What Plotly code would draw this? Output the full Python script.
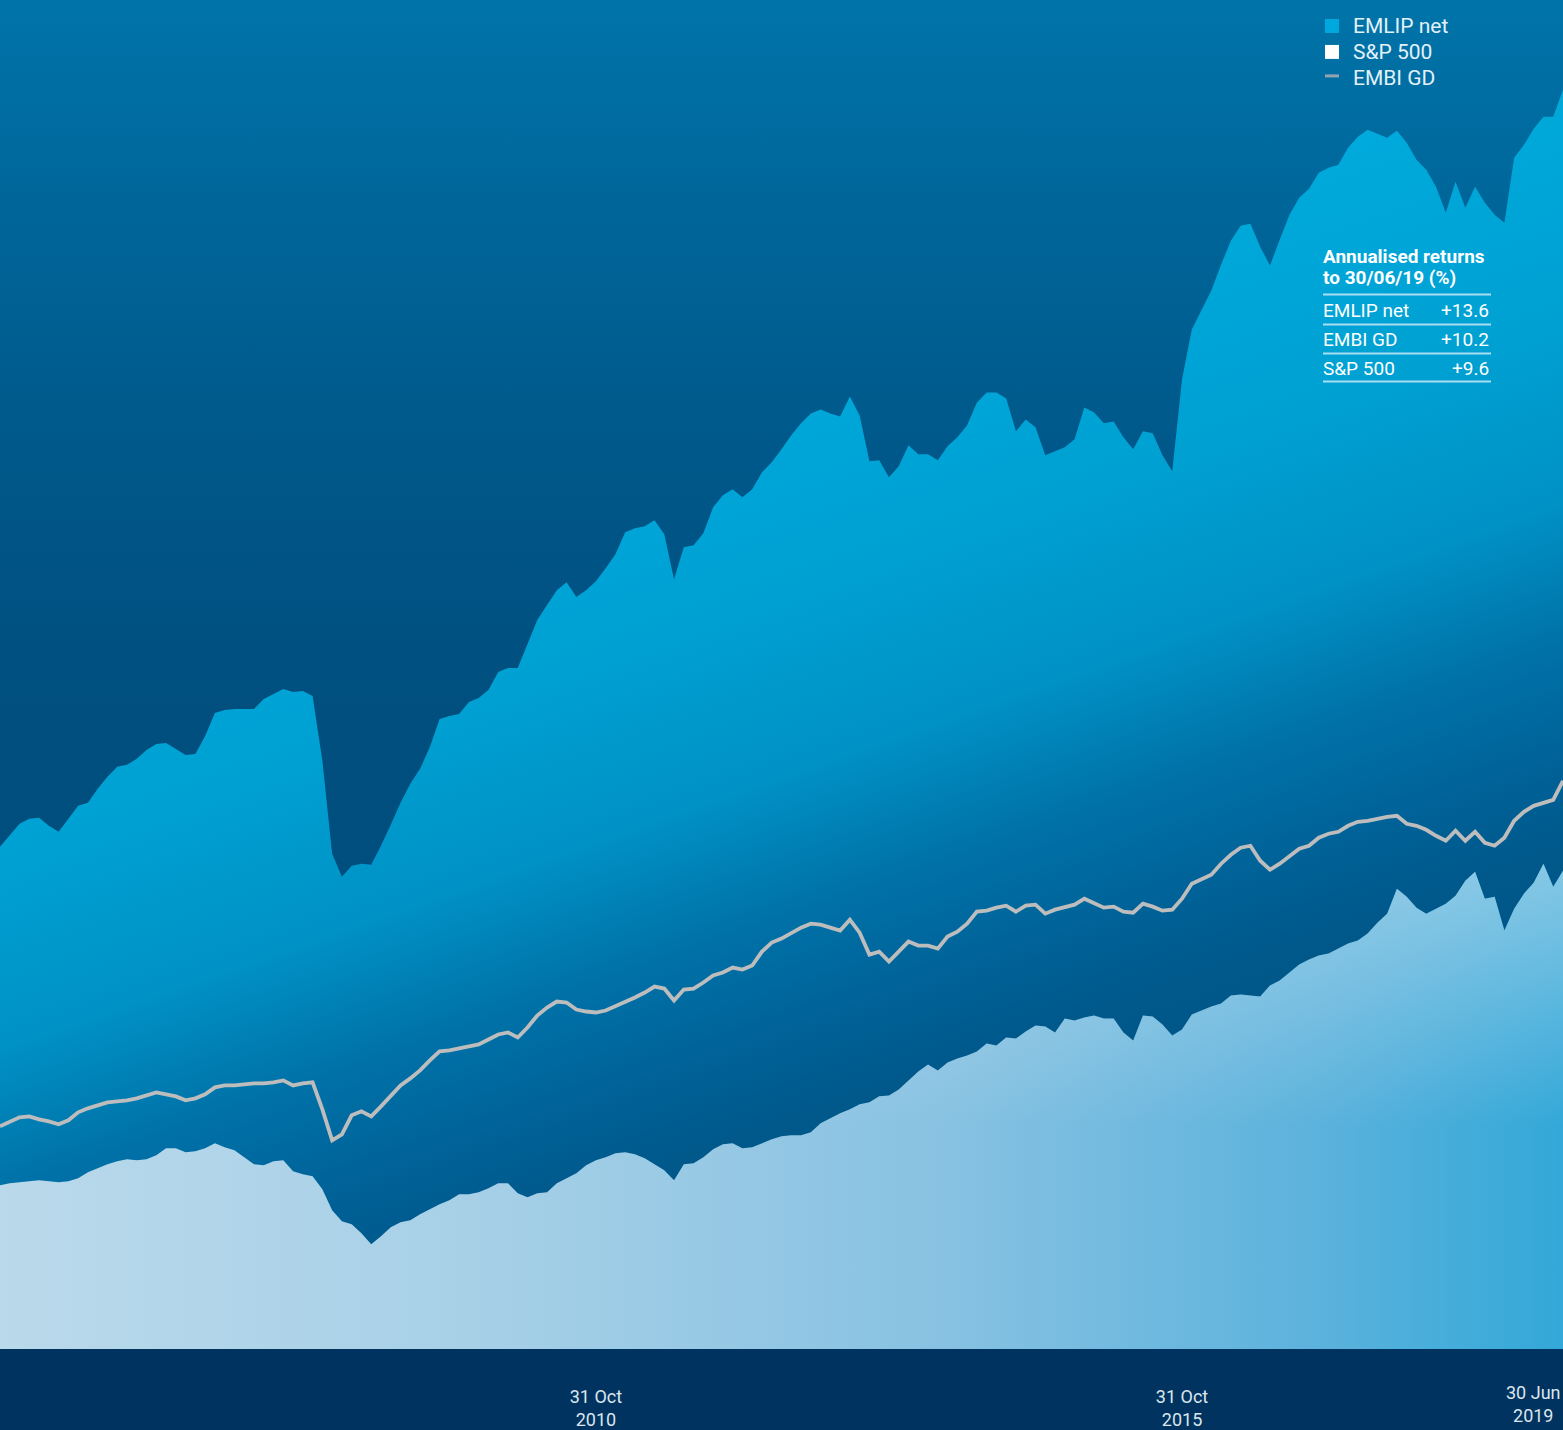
import base64
import plotly.graph_objects as go

# ---------------------------------------------------------------------------
# Data: month-end index levels (months since inception)
# ---------------------------------------------------------------------------
months = list(range(161))

emlip_net = [
    100.6, 103.0, 105.2, 106.2, 106.4, 104.8, 103.6, 106.2, 108.8, 109.4,
    112.2, 114.6, 116.6, 117.0, 118.2, 120.0, 121.2, 121.4, 120.2, 119.0,
    119.2, 122.8, 127.4, 128.0, 128.2, 128.2, 128.2, 130.2, 131.2, 132.2,
    131.6, 131.8, 130.8, 117.8, 99.2, 94.6, 96.8, 97.2, 97.0, 100.8,
    105.0, 109.4, 113.2, 116.2, 120.6, 126.2, 126.8, 127.2, 129.6, 130.4,
    132.0, 135.6, 136.4, 136.4, 141.2, 146.0, 149.0, 152.0, 153.6, 150.6,
    152.0, 153.8, 156.4, 159.2, 163.6, 164.4, 164.8, 166.0, 163.2, 154.2,
    160.6, 161.0, 163.4, 168.6, 171.0, 172.2, 170.6, 172.2, 175.6, 177.6,
    180.2, 183.0, 185.4, 187.4, 188.2, 187.4, 186.8, 190.8, 187.0, 177.8,
    178.0, 174.6, 176.8, 181.0, 179.2, 179.2, 178.0, 180.8, 182.6, 185.0,
    189.6, 191.6, 191.6, 190.4, 183.8, 186.2, 184.6, 179.0, 179.8, 180.6,
    182.2, 188.6, 187.6, 185.4, 185.8, 182.6, 180.2, 183.8, 183.4, 179.0,
    175.8, 194.2, 204.2, 208.0, 212.0, 217.2, 222.0, 225.0, 225.4, 220.8,
    217.0, 222.2, 227.2, 230.6, 232.4, 235.6, 236.6, 237.2, 240.6, 242.8,
    244.2, 243.4, 242.6, 244.0, 241.6, 238.2, 236.2, 232.8, 227.6, 233.8,
    228.6, 232.8, 229.6, 227.2, 225.6, 238.6, 241.2, 244.4, 246.8, 246.8,
    252.2,
]

embi_gd = [
    44.6, 45.6, 46.4, 46.6, 46.0, 45.6, 45.0, 45.8, 47.4, 48.2,
    48.8, 49.4, 49.6, 49.8, 50.2, 50.8, 51.4, 51.0, 50.6, 49.8,
    50.2, 51.0, 52.4, 52.8, 52.8, 53.0, 53.2, 53.2, 53.4, 53.8,
    52.8, 53.2, 53.4, 48.0, 41.8, 43.0, 46.8, 47.6, 46.6, 48.6,
    50.8, 52.8, 54.2, 55.8, 57.8, 59.6, 59.8, 60.2, 60.6, 61.0,
    62.0, 63.0, 63.4, 62.4, 64.4, 66.8, 68.4, 69.6, 69.4, 68.0,
    67.6, 67.4, 67.8, 68.6, 69.6, 70.4, 71.4, 72.6, 72.2, 69.8,
    72.0, 72.2, 73.4, 74.8, 75.4, 76.4, 76.0, 76.8, 79.6, 81.4,
    82.2, 83.4, 84.4, 85.2, 85.0, 84.4, 83.8, 86.0, 83.4, 79.0,
    79.6, 77.6, 79.6, 81.6, 80.8, 80.8, 80.2, 82.6, 83.6, 85.2,
    87.6, 87.8, 88.4, 88.8, 87.6, 88.8, 89.0, 87.2, 88.0, 88.6,
    89.0, 90.2, 89.4, 88.4, 88.6, 87.6, 87.4, 89.2, 88.6, 87.8,
    88.0, 90.2, 93.2, 94.2, 95.0, 97.2, 99.0, 100.4, 100.8, 97.8,
    96.0, 97.2, 98.6, 100.2, 100.8, 102.4, 103.2, 103.6, 104.8, 105.6,
    105.8, 106.2, 106.6, 106.8, 105.2, 104.8, 104.0, 102.8, 101.8, 103.8,
    101.8, 103.6, 101.4, 100.8, 102.4, 105.8, 107.6, 108.8, 109.4, 110.0,
    113.8,
]

sp500 = [
    32.8, 33.2, 33.4, 33.6, 33.8, 33.6, 33.4, 33.6, 34.2, 35.4,
    36.2, 37.0, 37.6, 38.0, 37.8, 38.0, 38.8, 40.2, 40.2, 39.4,
    39.6, 40.2, 41.2, 40.4, 39.8, 38.4, 37.0, 36.8, 37.6, 37.8,
    35.6, 35.0, 34.6, 32.0, 27.8, 25.6, 25.0, 23.2, 21.0, 22.6,
    24.4, 25.4, 25.8, 27.0, 28.0, 29.0, 29.8, 31.0, 31.0, 31.4,
    32.2, 33.2, 33.2, 31.2, 30.4, 31.2, 31.4, 33.2, 34.2, 35.2,
    36.8, 37.8, 38.4, 39.2, 39.4, 39.0, 38.2, 37.0, 35.8, 33.8,
    37.0, 37.2, 38.4, 40.0, 41.0, 41.2, 40.2, 40.4, 41.2, 42.0,
    42.6, 42.8, 42.8, 43.4, 45.2, 46.2, 47.2, 48.0, 49.0, 49.4,
    50.6, 50.8, 52.0, 53.8, 55.6, 57.0, 55.8, 57.4, 58.2, 58.8,
    59.6, 61.2, 60.8, 62.4, 62.2, 63.6, 64.8, 64.6, 63.4, 66.2,
    65.8, 66.4, 66.8, 66.2, 66.2, 63.4, 61.8, 66.8, 66.6, 65.0,
    62.8, 64.0, 67.0, 67.8, 68.6, 69.2, 70.8, 71.0, 70.8, 70.6,
    72.8, 73.8, 75.4, 77.0, 78.0, 78.8, 79.2, 80.2, 81.2, 81.8,
    83.2, 85.4, 87.2, 92.2, 90.6, 88.4, 87.2, 88.2, 89.2, 90.8,
    93.8, 95.6, 90.2, 90.6, 83.8, 88.2, 91.2, 93.4, 97.2, 92.6,
    95.8,
]

tick_months = [61, 121]
tick_labels = ["31 Oct<br>2010", "31 Oct<br>2015"]
end_label = "30 Jun<br>2019"

series_names = ["EMLIP net", "S&P 500", "EMBI GD"]

returns_title = ["Annualised returns", "to 30/06/19 (%)"]
returns_names = ["EMLIP net", "EMBI GD", "S&P 500"]
returns_values = ["+13.6", "+10.2", "+9.6"]

# ---------------------------------------------------------------------------
# Geometry / styling
# ---------------------------------------------------------------------------
W, H = 1563, 1430
BOTTOM = 79                     # navy band under the plot
PLOT_H = H - BOTTOM
Y_MAX = 270.2
FONT = "Roboto, 'Liberation Sans', Arial, sans-serif"

EMLIP_KEY = "#00A8E0"
SP_KEY = "#FFFFFF"
EMBI_COLOR = "#BDBDBD"
EMBI_KEY = "#93A3AD"


def px(xp):
    return xp / W


def py(yp):
    return 1 - yp / PLOT_H


# Diagonal cyan-to-navy wash that shows through underneath the EMLIP area
emlip_svg = f"""<svg xmlns="http://www.w3.org/2000/svg" width="{W}" height="{PLOT_H}"
 viewBox="0 0 {W} {PLOT_H}" preserveAspectRatio="none">
<defs><linearGradient id="g" gradientUnits="userSpaceOnUse" x1="0" y1="600" x2="327" y2="1535">
<stop offset="0" stop-color="#00AADC"/>
<stop offset="0.257" stop-color="#00A0D2"/>
<stop offset="0.43" stop-color="#0091C5"/>
<stop offset="0.56" stop-color="#0072A8"/>
<stop offset="0.667" stop-color="#006399"/>
<stop offset="0.76" stop-color="#00588B"/>
<stop offset="1" stop-color="#004F80"/>
</linearGradient></defs>
<rect x="0" y="0" width="{W}" height="{PLOT_H}" fill="url(#g)"/></svg>"""
emlip_wash = "data:image/svg+xml;base64," + base64.b64encode(emlip_svg.encode()).decode()

fig = go.Figure()

# Invisible ceiling at the top of the value axis
fig.add_trace(go.Scatter(
    x=months, y=[Y_MAX] * len(months), mode="lines", line=dict(width=0),
    hoverinfo="skip", showlegend=False,
))
# EMLIP net: the dark sky above the EMLIP curve
fig.add_trace(go.Scatter(
    x=months, y=emlip_net, mode="lines", line=dict(width=0), name="EMLIP net",
    fill="tonexty",
    fillgradient=dict(
        type="vertical", start=0, stop=Y_MAX,
        colorscale=[[0, "#004C7B"], [0.48, "#004F7F"], [0.67, "#00588A"],
                    [0.85, "#00669A"], [1, "#0074A9"]],
    ),
    hoverinfo="skip", showlegend=False,
))
# S&P 500 area: pale on the left, deeper cyan to the right
fig.add_trace(go.Scatter(
    x=months, y=sp500, mode="lines", line=dict(width=0), name="S&P 500",
    fill="tozeroy",
    fillgradient=dict(
        type="horizontal", start=0, stop=months[-1],
        colorscale=[[0, "#BAD9EB"], [0.3, "#A7D0E7"], [0.6, "#88C2E2"],
                    [0.85, "#5AB2DC"], [1, "#33A8D8"]],
    ),
    hoverinfo="skip", showlegend=False,
))
# Soft highlight towards the upper part of the S&P area
fig.add_trace(go.Scatter(
    x=months, y=sp500, mode="lines", line=dict(width=0),
    fill="tozeroy",
    fillgradient=dict(
        type="vertical", start=45, stop=97,
        colorscale=[[0, "rgba(200,225,240,0)"], [1, "rgba(200,225,240,0.55)"]],
    ),
    hoverinfo="skip", showlegend=False,
))
# EMBI GD line
fig.add_trace(go.Scatter(
    x=months, y=embi_gd, mode="lines", name="EMBI GD",
    line=dict(color=EMBI_COLOR, width=3.8),
    hoverinfo="skip", showlegend=False,
))

annotations = []
shapes = []

# Legend: keys + labels in the top-right corner
legend_y = [26, 52, 78]
for name, yp in zip(series_names, legend_y):
    annotations.append(dict(
        text=name, x=px(1351), y=py(yp), xref="paper", yref="paper",
        xanchor="left", yanchor="middle", showarrow=False,
        font=dict(family=FONT, size=21, color="#E3F1F9"),
    ))
for color, yp in zip([EMLIP_KEY, SP_KEY], legend_y[:2]):
    shapes.append(dict(
        type="rect", xref="paper", yref="paper",
        x0=px(1325), x1=px(1339), y0=py(yp - 7), y1=py(yp + 7),
        fillcolor=color, line=dict(width=0),
    ))
shapes.append(dict(
    type="line", xref="paper", yref="paper",
    x0=px(1325), x1=px(1339), y0=py(legend_y[2] - 2), y1=py(legend_y[2] - 2),
    line=dict(color=EMBI_KEY, width=3),
))

# Annualised returns table
for label, yp in zip(returns_title, [257, 278]):
    annotations.append(dict(
        text=f"<b>{label}</b>", x=px(1321), y=py(yp), xref="paper", yref="paper",
        xanchor="left", yanchor="middle", showarrow=False,
        font=dict(family=FONT, size=19, color="#FFFFFF"),
    ))
row_y = [311, 340, 369]
for name, val, yp in zip(returns_names, returns_values, row_y):
    annotations.append(dict(
        text=name, x=px(1321), y=py(yp), xref="paper", yref="paper",
        xanchor="left", yanchor="middle", showarrow=False,
        font=dict(family=FONT, size=19, color="#FFFFFF"),
    ))
    annotations.append(dict(
        text=val, x=px(1491), y=py(yp), xref="paper", yref="paper",
        xanchor="right", yanchor="middle", showarrow=False,
        font=dict(family=FONT, size=19, color="#FFFFFF"),
    ))
for yp in [295, 325, 354, 382]:
    shapes.append(dict(
        type="line", xref="paper", yref="paper",
        x0=px(1323), x1=px(1491), y0=py(yp), y1=py(yp),
        line=dict(color="#A9DDF3", width=2),
    ))

# Final date label, flush with the right edge
annotations.append(dict(
    text=end_label, x=months[-1], xref="x", y=py(1430), yref="paper",
    xanchor="right", yanchor="bottom", align="center", showarrow=False,
    font=dict(family=FONT, size=18, color="#DCE6EE"),
))

fig.update_layout(
    width=W, height=H, autosize=False,
    margin=dict(l=0, r=0, t=0, b=BOTTOM, pad=0),
    paper_bgcolor="#00335F",
    plot_bgcolor="rgba(0,0,0,0)",
    images=[dict(source=emlip_wash, xref="paper", yref="paper", x=0, y=1,
                 sizex=1, sizey=1, sizing="stretch", xanchor="left",
                 yanchor="top", layer="below")],
    xaxis=dict(
        range=[0, months[-1]], showgrid=False, zeroline=False, showline=False,
        ticks="", tickvals=tick_months, ticktext=tick_labels,
        tickfont=dict(family=FONT, size=18, color="#DCE6EE"),
        ticklabelstandoff=35, fixedrange=True,
    ),
    yaxis=dict(range=[0, Y_MAX], visible=False, fixedrange=True),
    showlegend=False,
    annotations=annotations,
    shapes=shapes,
    hovermode=False,
)

fig.write_html("out.html", config={"displayModeBar": False})
